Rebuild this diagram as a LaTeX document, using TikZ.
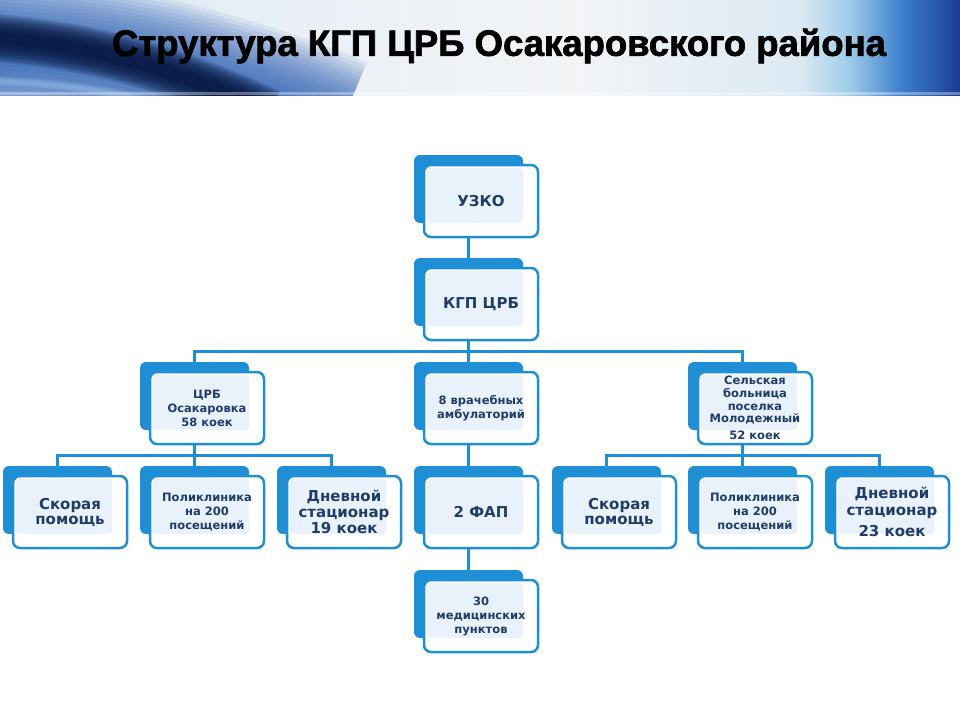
\documentclass[tikz,border=0pt]{standalone}
\usepackage{fontspec}
\setmainfont{DejaVu Sans}
\newfontfamily\titlefont{Liberation Sans}[BoldFeatures={FakeBold=2}]
\definecolor{boxblue}{HTML}{1E8FD5}
\definecolor{lightfill}{HTML}{E9F2FA}
\definecolor{txtblue}{HTML}{1F3C6B}
\definecolor{hA}{HTML}{C4D8EE}
\definecolor{hB}{HTML}{E8EFF6}
\definecolor{hC}{HTML}{F2F4F6}
\definecolor{hD}{HTML}{DCE9F3}
\definecolor{hE}{HTML}{9CCBE9}
\definecolor{hF}{HTML}{3D80CC}
\definecolor{hG}{HTML}{1A3C96}
\definecolor{swblue}{HTML}{2358B0}
\definecolor{swlight}{HTML}{9CC4EA}
\definecolor{swdark}{HTML}{06153C}
\pgfdeclarehorizontalshading{hdr}{100bp}{color(0bp)=(hA); color(25bp)=(hA); color(37bp)=(hB); color(55bp)=(hC); color(66.7bp)=(hD); color(69.3bp)=(hE); color(71.9bp)=(hF); color(75bp)=(hG); color(100bp)=(hG)}
\tikzset{
  backbox/.style={fill=boxblue, rounded corners=6pt, minimum width=109pt, minimum height=68pt, inner sep=0pt},
  frontbox/.style={fill=white, draw=boxblue, line width=2.5pt, rounded corners=7pt},
  lightbox/.style={fill=lightfill, rounded corners=3pt},
  boxtext/.style={text=txtblue, align=center, inner sep=0pt, minimum width=114pt, minimum height=72pt, font=\bfseries\fontsize{11.5}{14}\selectfont},
  bigtext/.style={font=\bfseries\fontsize{15}{15}\selectfont},
  conn/.style={draw=boxblue, line width=3pt}
}
\newcommand\orgbox[5][]{%
  \node[backbox] (#2b) at (#3+54.5,#4+34) {};
  \draw[frontbox] (#3+10,#4+10) rectangle (#3+124,#4+82);
  \fill[lightbox] (#3+13,#4+13) rectangle (#3+109,#4+68);
  \node[boxtext,#1] (#2) at (#3+67,#4+46) {#5};
}
\begin{document}
\begin{tikzpicture}[x=1pt,y=-1pt]
\useasboundingbox (0,0) rectangle (960,720);
\fill[white] (0,0) rectangle (960,720);
% header
\shade[shading=hdr] (0,0) rectangle (960,95);
\begin{scope}
\clip (0,0) rectangle (960,95);
\foreach \i in {0,...,15}{
  \draw[swblue, line width={140-8*\i}, opacity=0.09] (-30,47) .. controls (100,50) and (220,77) .. (340,127);}
\foreach \i in {0,...,13}{
  \draw[swdark, line width={48-3*\i}, opacity=0.14] (-20,37) .. controls (80,43) and (170,66) .. (270,113);}
\foreach \i in {0,...,5}{
  \draw[swlight, line width={10-1.5*\i}, opacity=0.12] (-10,81) .. controls (50,83) and (100,89) .. (150,101);}
\draw[white, line width=3pt, opacity=0.35] (0,93) -- (960,93);
\end{scope}
\node[font=\titlefont\bfseries\fontsize{36.5}{42}\selectfont, text=black] (title) at (499,46) {Структура КГП ЦРБ Осакаровского района};
% boxes
\orgbox[font=\bfseries\fontsize{15}{16}\selectfont]{uzko}{414}{155}{УЗКО}
\orgbox[font=\bfseries\fontsize{15}{16}\selectfont]{kgp}{414}{258}{КГП ЦРБ}
\orgbox{crb}{140}{362}{ЦРБ\\Осакаровка\\58 коек}
\orgbox{vrach}{414}{362}{8 врачебных\\амбулаторий}
\orgbox[font=\bfseries\fontsize{11.5}{12.8}\selectfont]{sel}{688}{362}{Сельская\\больница\\поселка\\Молодежный\\[4pt]52 коек}
\orgbox[bigtext]{skl}{3}{466}{Скорая\\помощь}
\orgbox{poll}{140}{466}{Поликлиника\\на 200\\посещений}
\orgbox[font=\bfseries\fontsize{15}{16}\selectfont]{dnl}{277}{466}{Дневной\\стационар\\19 коек}
\orgbox[font=\bfseries\fontsize{15}{16}\selectfont]{fap}{414}{466}{2 ФАП}
\orgbox[bigtext]{skr}{552}{466}{Скорая\\помощь}
\orgbox{polr}{688}{466}{Поликлиника\\на 200\\посещений}
\orgbox[font=\bfseries\fontsize{15}{17}\selectfont]{dnr}{825}{466}{Дневной\\стационар\\[4pt]23 коек}
\orgbox{med}{414}{570}{30\\медицинских\\пунктов}
% connectors
\draw[conn] (uzkob.center |- uzko.south) -- (kgpb.north);
\draw[conn] (kgpb.center |- kgp.south) -- ++(0,11) coordinate (bus2);
\draw[conn] (crbb.north) |- (bus2) -| (selb.north);
\draw[conn] (bus2) -- (vrachb.north);
\draw[conn] (crbb.center |- crb.south) -- ++(0,11) coordinate (bus3l);
\draw[conn] (sklb.north) |- (bus3l) -| (dnlb.north);
\draw[conn] (bus3l) -- (pollb.north);
\draw[conn] (selb.center |- sel.south) -- ++(0,11) coordinate (bus3r);
\draw[conn] (skrb.north) |- (bus3r) -| (dnrb.north);
\draw[conn] (bus3r) -- (polrb.north);
\draw[conn] (vrachb.center |- vrach.south) -- (fapb.north);
\draw[conn] (fapb.center |- fap.south) -- (medb.north);
\end{tikzpicture}
\end{document}
